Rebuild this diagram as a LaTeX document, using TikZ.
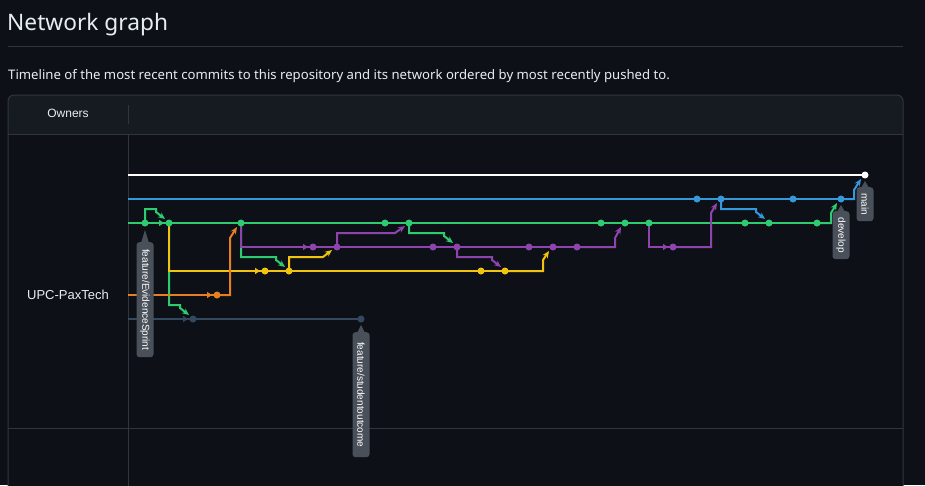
\documentclass[tikz,border=0pt]{standalone}
\usepackage{fontspec}
\setmainfont{Noto Sans}
\newfontfamily\arialish{Liberation Sans}
\usetikzlibrary{calc,arrows.meta}
\definecolor{bgc}{HTML}{0D1117}
\definecolor{hdrc}{HTML}{161B22}
\definecolor{brd}{HTML}{30363D}
\definecolor{txt}{HTML}{E6EDF3}
\definecolor{tagc}{HTML}{4A5059}
\definecolor{wc}{HTML}{FFFFFF}
\definecolor{bc}{HTML}{3498DB}
\definecolor{gc}{HTML}{2ECC71}
\definecolor{pc}{HTML}{8E44AD}
\definecolor{yc}{HTML}{F1C40F}
\definecolor{oc}{HTML}{E67E22}
\definecolor{sc}{HTML}{34495E}
\begin{document}
\begin{tikzpicture}[x=1pt,y=-1pt,
  edge/.style={line width=2pt,line join=miter},
  cdot/.style={circle,fill=#1,inner sep=0pt,minimum size=7pt},
  mtip/.style={-{Stealth[length=7pt,width=6pt]}},
  htip/.style={-{Triangle[length=5pt,width=6pt]}},
  tag/.style={fill=tagc,rounded corners=3pt,text=white,font=\arialish\fontsize{10}{10}\selectfont,rotate=-90,anchor=west,minimum height=17pt,inner xsep=4pt,inner ysep=0pt},
  lbl/.style={text=txt,inner sep=0pt}]
\useasboundingbox (0,0) rectangle (925,485);
\fill[bgc] (0,0) rectangle (925,485);
\clip (0,0) rectangle (925,485);
% page texts
\node[lbl,anchor=base west,font=\fontsize{22.7}{23}\selectfont] (title) at (7,30) {Network graph};
\draw[brd,line width=1pt] (8,46) -- (903,46);
\node[lbl,anchor=base west,font=\fontsize{13.15}{14}\selectfont] (sub) at (8,79) {Timeline of the most recent commits to this repository and its network ordered by most recently pushed to.};
% table
\fill[hdrc,rounded corners=6pt] (8,95) rectangle (903,140);
\fill[bgc] (8,134) rectangle (903,495);
\draw[brd,line width=1pt,rounded corners=6pt] (8,500) -- (8,95) -- (903,95) -- (903,500);
\draw[brd,line width=1pt] (8,134) -- (903,134);
\draw[brd,line width=1pt] (128,105) -- (128,124);
\draw[brd,line width=1pt] (128,134) -- (128,500);
\draw[brd,line width=1pt] (8,428) -- (903,428);
\node[lbl,font=\arialish\fontsize{12}{12}\selectfont] (owners) at (68,113) {Owners};
\node[lbl,font=\arialish\fontsize{13}{13}\selectfont] (owner) at (68,295) {UPC-PaxTech};
% commits
\coordinate (wL) at (128,175);
\coordinate (bL) at (128,199);
\coordinate (gL) at (128,223);
\coordinate (oL) at (128,295);
\coordinate (sL) at (128,319);
\coordinate (w1) at (865,175);
\foreach \n/\x in {b1/697,b2/721,b3/793,b4/841} \coordinate (\n) at (\x,199);
\foreach \n/\x in {g1/145,g2/169,g3/241,g4/385,g5/409,g6/601,g7/625,g8/649,g9/745,g10/769,g11/817} \coordinate (\n) at (\x,223);
\foreach \n/\x in {p1/313,p2/337,p3/433,p4/457,p5/529,p6/553,p7/577,p8/673} \coordinate (\n) at (\x,247);
\foreach \n/\x in {y1/265,y2/289,y3/481,y4/505} \coordinate (\n) at (\x,271);
\coordinate (o1) at (217,295);
\coordinate (s1) at (193,319);
\coordinate (s2) at (361,319);
% white
\draw[edge,wc] (wL) -- (w1);
% blue
\draw[edge,bc] (bL) -- (b4);
\draw[edge,bc,mtip] (b4) -| ($(w1)+(-11,15)$) -- ($(w1)+(-4,4)$);
\draw[edge,bc,mtip] (b2) |- ($(g10)+(-13,-14)$) -- ($(g10)+(-13,-11)$) -- ($(g10)+(-4,-4)$);
% slate
\draw[edge,sc] (sL) -- (s2);
% green
\draw[edge,gc] (gL) -- (g11);
\draw[edge,gc,mtip] (g1) |- ($(g2)+(-13,-14)$) -- ($(g2)+(-13,-11)$) -- ($(g2)+(-4,-4)$);
\draw[edge,gc,mtip] (g2) |- ($(s1)+(-13,-14)$) -- ($(s1)+(-13,-11)$) -- ($(s1)+(-4,-4)$);
\draw[edge,gc,mtip] (g3) |- ($(y2)+(-13,-14)$) -- ($(y2)+(-13,-11)$) -- ($(y2)+(-4,-4)$);
\draw[edge,gc,mtip] (g5) |- ($(p4)+(-13,-14)$) -- ($(p4)+(-13,-11)$) -- ($(p4)+(-4,-4)$);
\draw[edge,gc,mtip] (g11) -| ($(b4)+(-10,14)$) -- ($(b4)+(-4,4)$);
% purple
\draw[edge,pc] (g3) |- (p1) -- (p7);
\draw[edge,pc,mtip] (p7) -| ($(g7)+(-10,15)$) -- ($(g7)+(-4,4)$);
\draw[edge,pc,mtip] (p2) |- ($(g5)+(-14,10)$) -- ($(g5)+(-4,3)$);
\draw[edge,pc,mtip] (p4) |- ($(y4)+(-13,-14)$) -- ($(y4)+(-13,-11)$) -- ($(y4)+(-4,-4)$);
\draw[edge,pc] (g8) |- (p8);
\draw[edge,pc,mtip] (p8) -| ($(b2)+(-10,14)$) -- ($(b2)+(-4,4)$);
% yellow
\draw[edge,yc] (g2) |- (y1) -- (y4);
\draw[edge,yc,mtip] (y4) -| ($(p6)+(-10,13)$) -- ($(p6)+(-4,4)$);
\draw[edge,yc,mtip] (y2) |- ($(p2)+(-14,10)$) -- ($(p2)+(-5,3)$);
% orange
\draw[edge,oc] (oL) -- (o1);
\draw[edge,oc,mtip] (o1) -| ($(g3)+(-11,15)$) -- ($(g3)+(-4,4)$);
% horizontal arrow heads
\draw[edge,gc,htip] ($(g2)+(-11,0)$) -- ($(g2)+(-5,0)$);
\draw[edge,oc,htip] ($(o1)+(-11,0)$) -- ($(o1)+(-5,0)$);
\draw[edge,sc,htip] ($(s1)+(-11,0)$) -- ($(s1)+(-5,0)$);
\draw[edge,yc,htip] ($(y1)+(-11,0)$) -- ($(y1)+(-5,0)$);
\draw[edge,pc,htip] ($(p1)+(-11,0)$) -- ($(p1)+(-5,0)$);
\draw[edge,pc,htip] ($(p8)+(-11,0)$) -- ($(p8)+(-5,0)$);
% dots
\node[cdot=wc] at (w1) {};
\foreach \n in {b1,b2,b3,b4} \node[cdot=bc] at (\n) {};
\foreach \n in {g1,g2,g3,g4,g5,g6,g7,g8,g9,g10,g11} \node[cdot=gc] at (\n) {};
\foreach \n in {p1,p2,p3,p4,p5,p6,p7,p8} \node[cdot=pc] at (\n) {};
\foreach \n in {y1,y2,y3,y4} \node[cdot=yc] at (\n) {};
\node[cdot=oc] at (o1) {};
\node[cdot=sc] at (s1) {};
\node[cdot=sc] at (s2) {};
% tags
\node[tag,minimum width=115pt] (t1) at ($(g1)+(0,19)$) {feature/EvidenceSprint};
\fill[tagc] ($(t1.west)+(-4,1)$) -- ($(g1)+(0,7)$) -- ($(t1.west)+(4,1)$) -- cycle;
\node[tag,minimum width=125pt] (t2) at ($(s2)+(0,13)$) {feature/studentoutcome};
\fill[tagc] ($(t2.west)+(-4,1)$) -- ($(s2)+(0,6)$) -- ($(t2.west)+(4,1)$) -- cycle;
\node[tag,minimum width=48pt] (t3) at ($(b4)+(0,12)$) {develop};
\fill[tagc] ($(t3.west)+(-4,1)$) -- ($(b4)+(0,6)$) -- ($(t3.west)+(4,1)$) -- cycle;
\node[tag,minimum width=34pt] (t4) at ($(w1)+(0,12)$) {main};
\fill[tagc] ($(t4.west)+(-4,1)$) -- ($(w1)+(0,6)$) -- ($(t4.west)+(4,1)$) -- cycle;
\end{tikzpicture}
\end{document}
